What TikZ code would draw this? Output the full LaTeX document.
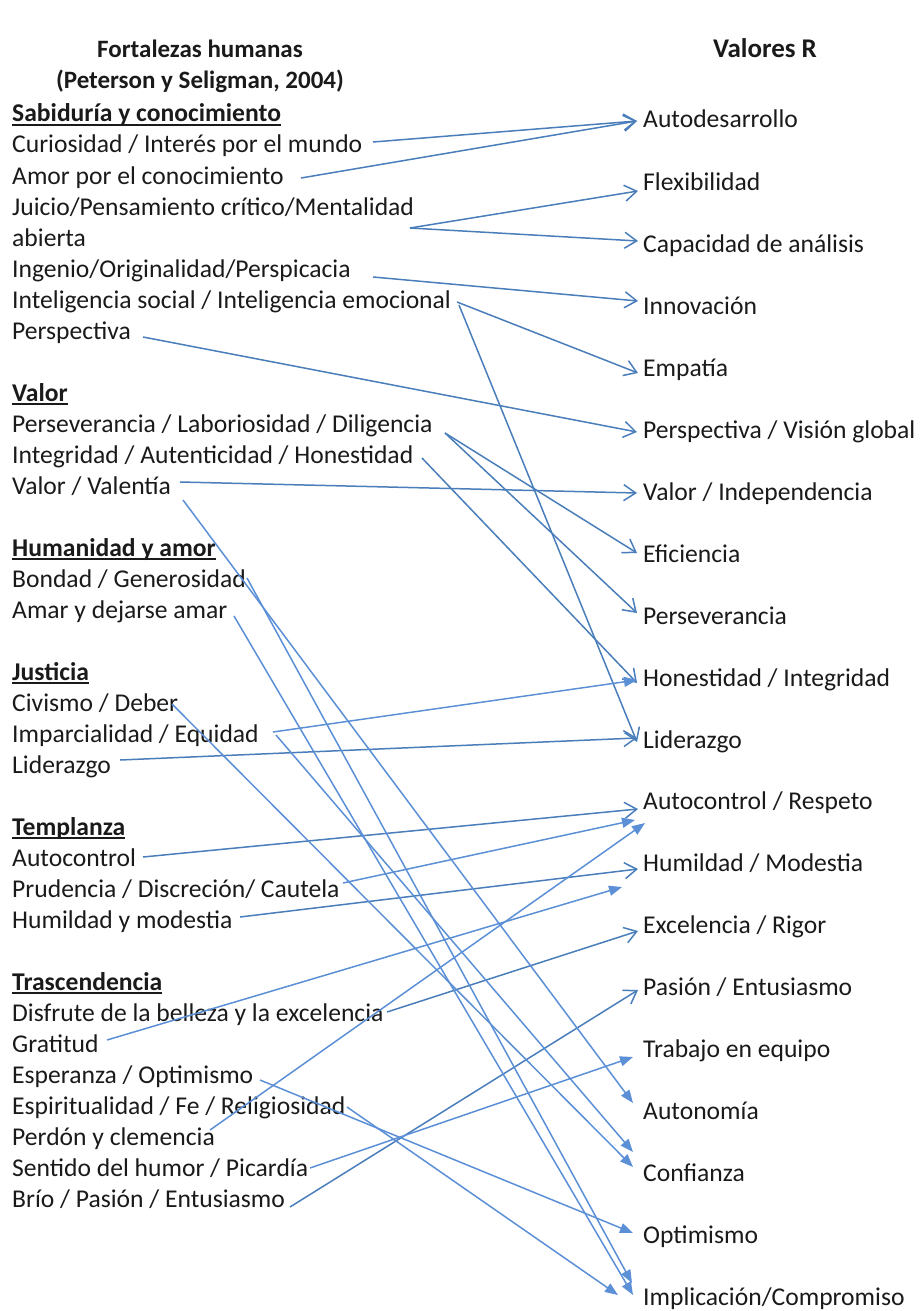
\documentclass[tikz,border=0pt]{standalone}
\usepackage{fontspec}
\setmainfont{Carlito}
\usetikzlibrary{arrows.meta}
\definecolor{lineA}{HTML}{4A7EBB}
\definecolor{lineB}{HTML}{5B8FD6}
\definecolor{txt}{HTML}{1A1A1A}
\tikzset{
  item/.style={anchor=base west, inner sep=0pt, font=\fontsize{25.6}{31}\selectfont, text=txt},
  head/.style={anchor=base west, inner sep=0pt, font=\fontsize{25.6}{31}\selectfont\bfseries, text=txt},
  title/.style={anchor=base, inner sep=0pt, font=\fontsize{25}{30}\selectfont\bfseries, text=txt},
  uline/.style={draw=txt, line width=1.6pt},
  openarr/.style={draw=lineA, line width=1.5pt, -{Straight Barb[length=12pt,width=16pt,line width=1.5pt]}},
  fillarr/.style={draw=lineB, line width=1.5pt, -{Triangle[length=13pt,width=10pt]}},
}
\begin{document}
\begin{tikzpicture}[x=1pt,y=-1pt]
\useasboundingbox (0,0) rectangle (920,1311);
% titles
\node[title] (t1) at (200,58) {Fortalezas humanas};
\node[title] (t2) at (200,89) {(Peterson y Seligman, 2004)};
\node[title, font=\fontsize{27}{32}\selectfont\bfseries] (t3) at (765,58) {Valores R};
% left column
\node[head] (h1) at (12,122) {Sabiduría y conocimiento};
\node[item] (cur) at (12,153) {Curiosidad / Interés por el mundo};
\node[item] (amo) at (12,184) {Amor por el conocimiento};
\node[item] (jui) at (12,215) {Juicio/Pensamiento crítico/Mentalidad};
\node[item] (abi) at (12,246) {abierta};
\node[item] (ing) at (12,277) {Ingenio/Originalidad/Perspicacia};
\node[item] (int) at (12,308) {Inteligencia social / Inteligencia emocional};
\node[item] (per) at (12,339) {Perspectiva};
\node[head] (h2) at (12,401) {Valor};
\node[item] (pers) at (12,432) {Perseverancia / Laboriosidad / Diligencia};
\node[item] (integ) at (12,463) {Integridad / Autenticidad / Honestidad};
\node[item] (valv) at (12,494) {Valor / Valentía};
\node[head] (h3) at (12,556) {Humanidad y amor};
\node[item] (bon) at (12,587) {Bondad / Generosidad};
\node[item] (ama) at (12,618) {Amar y dejarse amar};
\node[head] (h4) at (12,680) {Justicia};
\node[item] (civ) at (12,711) {Civismo / Deber};
\node[item] (imp) at (12,742) {Imparcialidad / Equidad};
\node[item] (lid) at (12,773) {Liderazgo};
\node[head] (h5) at (12,835) {Templanza};
\node[item] (auto) at (12,866) {Autocontrol};
\node[item] (pru) at (12,897) {Prudencia / Discreción/ Cautela};
\node[item] (hum) at (12,928) {Humildad y modestia};
\node[head] (h6) at (12,990) {Trascendencia};
\node[item] (dis) at (12,1021) {Disfrute de la belleza y la excelencia};
\node[item] (gra) at (12,1052) {Gratitud};
\node[item] (esp) at (12,1083) {Esperanza / Optimismo};
\node[item] (espi) at (12,1114) {Espiritualidad / Fe / Religiosidad};
\node[item] (perd) at (12,1145) {Perdón y clemencia};
\node[item] (sen) at (12,1176) {Sentido del humor / Picardía};
\node[item] (bri) at (12,1207) {Brío / Pasión / Entusiasmo};
% underlines of headings
\foreach \h in {h1,h2,h3,h4,h5,h6}
  \draw[uline] ([shift={(0,3)}]\h.base west) -- ([shift={(0,3)}]\h.base east);
% right column
\node[item] (r0) at (643,128) {Autodesarrollo};
\node[item] (r1) at (643,190) {Flexibilidad};
\node[item] (r2) at (643,252) {Capacidad de análisis};
\node[item] (r3) at (643,314) {Innovación};
\node[item] (r4) at (643,376) {Empatía};
\node[item] (r5) at (643,438) {Perspectiva / Visión global};
\node[item] (r6) at (643,500) {Valor / Independencia};
\node[item] (r7) at (643,562) {Eficiencia};
\node[item] (r8) at (643,624) {Perseverancia};
\node[item] (r9) at (643,686) {Honestidad / Integridad};
\node[item] (r10) at (643,748) {Liderazgo};
\node[item] (r11) at (643,809) {Autocontrol / Respeto};
\node[item] (r12) at (643,871) {Humildad / Modestia};
\node[item] (r13) at (643,933) {Excelencia / Rigor};
\node[item] (r14) at (643,995) {Pasión / Entusiasmo};
\node[item] (r15) at (643,1057) {Trabajo en equipo};
\node[item] (r16) at (643,1119) {Autonomía};
\node[item] (r17) at (643,1181) {Confianza};
\node[item] (r18) at (643,1243) {Optimismo};
\node[item] (r19) at (643,1305) {Implicación/Compromiso};
% connectors (open arrowheads)
\draw[openarr] ([shift={(361,-11)}]cur.base west) -- ([shift={(-6,-7)}]r0.base west);
\draw[openarr] ([shift={(289,-6)}]amo.base west) -- ([shift={(-6,-7)}]r0.base west);
\draw[openarr] ([shift={(398,13)}]jui.base west) -- ([shift={(-5,1)}]r1.base west);
\draw[openarr] ([shift={(398,13)}]jui.base west) -- ([shift={(-5,-11)}]r2.base west);
\draw[openarr] ([shift={(361,0)}]ing.base west) -- ([shift={(-5,-13)}]r3.base west);
\draw[openarr] ([shift={(445,-6)}]int.base west) -- ([shift={(-5,-3)}]r4.base west);
\draw[openarr] ([shift={(447,-3)}]int.base west) -- ([shift={(-6,-6)}]r10.base west);
\draw[openarr] ([shift={(131,-2)}]per.base west) -- ([shift={(-6,-6)}]r5.base west);
\draw[openarr] ([shift={(433,1)}]pers.base west) -- ([shift={(-6,-9)}]r7.base west);
\draw[openarr] ([shift={(433,1)}]pers.base west) -- ([shift={(-6,-11)}]r8.base west);
\draw[openarr] ([shift={(410,-5)}]integ.base west) -- ([shift={(-6,-3)}]r9.base west);
\draw[openarr] ([shift={(168,-12)}]valv.base west) -- ([shift={(-6,-7)}]r6.base west);
\draw[openarr] ([shift={(108,-13)}]lid.base west) -- ([shift={(-6,-10)}]r10.base west);
\draw[openarr] ([shift={(131,-9)}]auto.base west) -- ([shift={(-5,0)}]r11.base west);
\draw[openarr] ([shift={(228,-11)}]hum.base west) -- ([shift={(-5,-2)}]r12.base west);
\draw[openarr] ([shift={(375,-9)}]dis.base west) -- ([shift={(-5,-2)}]r13.base west);
\draw[openarr] ([shift={(278,0)}]bri.base west) -- ([shift={(-5,-5)}]r14.base west);
% connectors (filled arrowheads)
\draw[fillarr] ([shift={(171,6)}]valv.base west) -- ([shift={(-10,-16)}]r16.base west);
\draw[fillarr] ([shift={(235,-9)}]bon.base west) -- ([shift={(-11,-22)}]r19.base west);
\draw[fillarr] ([shift={(222,-2)}]ama.base west) -- ([shift={(-10,-10)}]r19.base west);
\draw[fillarr] ([shift={(160,-7)}]civ.base west) -- ([shift={(-10,-14)}]r17.base west);
\draw[fillarr] ([shift={(261,-10)}]imp.base west) -- ([shift={(-6,-6)}]r9.base west);
\draw[fillarr] ([shift={(264,-7)}]imp.base west) -- ([shift={(-10,-29)}]r17.base west);
\draw[fillarr] ([shift={(331,-14)}]pru.base west) -- ([shift={(-8,11)}]r11.base west);
\draw[fillarr] ([shift={(95,-12)}]gra.base west) -- ([shift={(-21,16)}]r12.base west);
\draw[fillarr] ([shift={(198,-15)}]perd.base west) -- ([shift={(2,14)}]r11.base west);
\draw[fillarr] ([shift={(248,-3)}]esp.base west) -- ([shift={(-10,-10)}]r18.base west);
\draw[fillarr] ([shift={(335,-7)}]espi.base west) -- ([shift={(-25,-10)}]r19.base west);
\draw[fillarr] ([shift={(298,-8)}]sen.base west) -- ([shift={(-10,0)}]r15.base west);
\end{tikzpicture}
\end{document}
